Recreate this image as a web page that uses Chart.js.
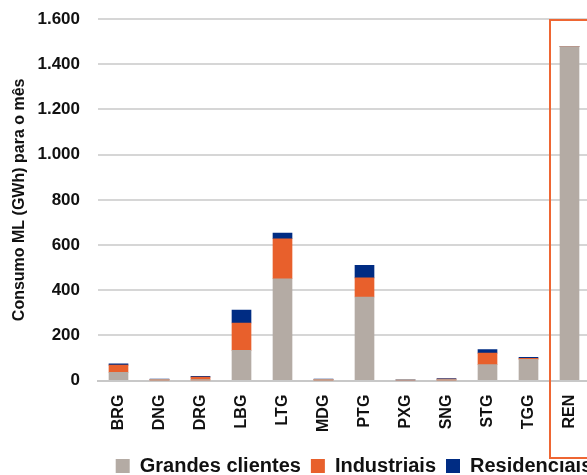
<!DOCTYPE html>
<html>
<head>
<meta charset="utf-8">
<script src="https://cdn.jsdelivr.net/npm/chart.js@4"></script>
<style>
html,body{margin:0;padding:0;background:#fff;overflow:hidden;width:587px;height:475px;}
#wrap{width:587px;height:475px;overflow:hidden;position:relative;}
#c{position:absolute;left:0;top:0;}
</style>
</head>
<body>
<div id="wrap"><canvas id="c" width="708" height="475" style="width:708px;height:475px"></canvas></div>
<script>
const categories = ['BRG','DNG','DRG','LBG','LTG','MDG','PTG','PXG','SNG','STG','TGG','REN'];
const grandesClientes = [37, 1, 2, 134, 451, 1, 370, 2, 1, 71, 94, 1478];
const industriais     = [32, 5, 14, 121, 177, 5, 85, 1, 6, 51, 5, 0];
const residenciais    = [5, 1, 3, 57, 25, 1, 55, 1, 2, 16, 4, 0];
const yTicks = [0, 200, 400, 600, 800, 1000, 1200, 1400, 1600];
const highlightCategory = 'REN';

const SANS = '"Liberation Sans", Arial, sans-serif';

function fmt(v){ return String(v).replace(/\B(?=(\d{3})+(?!\d))/g, '.'); }

const boxPlugin = {
  id: 'highlightBox',
  afterDraw(chart){
    const x = chart.scales.x, y = chart.scales.y;
    const i = categories.indexOf(highlightCategory);
    const left = (x.getPixelForValue(i - 1) + x.getPixelForValue(i)) / 2 + 1;
    const right = x.getPixelForValue(i) + (x.getPixelForValue(i) - left) + 2;
    const top = y.getPixelForValue(yTicks[yTicks.length-1]) + 1;
    const bottom = x.bottom + 12;
    const ctx = chart.ctx;
    ctx.save();
    ctx.strokeStyle = '#ee6633';
    ctx.lineWidth = 2;
    ctx.strokeRect(left, top, right - left, bottom - top);
    ctx.restore();
  }
};

new Chart(document.getElementById('c'), {
  type: 'bar',
  data: {
    labels: categories,
    datasets: [
      {label: 'Grandes clientes', data: grandesClientes, backgroundColor: '#b4aba4'},
      {label: 'Industriais', data: industriais, backgroundColor: '#e8602c'},
      {label: 'Residenciais', data: residenciais, backgroundColor: '#002c83'}
    ]
  },
  options: {
    responsive: false,
    animation: false,
    devicePixelRatio: 1,
    layout: {padding: {left: 0, top: 19, right: 0, bottom: -11}},
    datasets: {bar: {barThickness: 19}},
    plugins: {
      tooltip: {enabled: false},
      legend: {
        position: 'bottom',
        labels: {
          color: '#111',
          font: {family: SANS, size: 20, weight: 'bold'},
          boxWidth: 14, boxHeight: 14, padding: 10
        }
      }
    },
    scales: {
      x: {
        stacked: true,
        grid: {display: false, drawTicks: false},
        border: {color: '#c8c8c8', width: 2},
        ticks: {
          color: '#111', maxRotation: 90, minRotation: 90, padding: 14,
          font: {family: SANS, size: 16, weight: 'bold'}
        }
      },
      y: {
        stacked: true,
        min: 0, max: 1600,
        afterBuildTicks(s){ s.ticks = yTicks.map(v => ({value: v})); },
        afterFit(s){ s.width = 98; s.paddingTop = 0; },
        grid: {color: '#d6d6d6', lineWidth: 2, drawTicks: false},
        border: {display: false},
        ticks: {
          color: '#111', padding: 18,
          font: {family: SANS, size: 17, weight: 'bold'},
          callback: v => fmt(v)
        },
        title: {
          display: true, text: 'Consumo ML (GWh) para o mês', color: '#111',
          font: {family: SANS, size: 16, weight: 'bold'},
          padding: {top: 10, bottom: 0}
        }
      },
      yRight: {
        position: 'right',
        min: 0, max: 1600,
        afterFit(s){ s.width = 118; s.paddingTop = 0; },
        grid: {display: false, drawTicks: false},
        border: {display: false},
        ticks: {display: false}
      }
    }
  },
  plugins: [boxPlugin]
});
</script>
</body>
</html>
